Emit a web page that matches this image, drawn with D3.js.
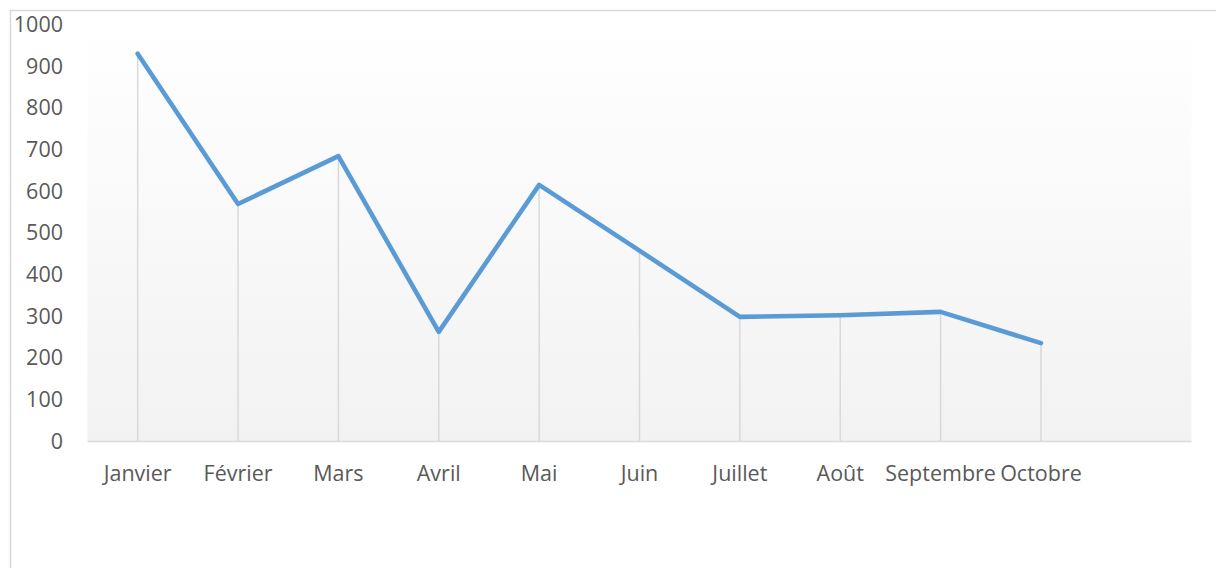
<!DOCTYPE html>
<html>
<head>
<meta charset="utf-8">
<script src="https://cdn.jsdelivr.net/npm/d3@7"></script>
<style>
  body { margin: 0; background: #fff; }
  text { font-family: "Open Sans", sans-serif; fill: #595959; }
</style>
</head>
<body>
<svg id="chart" width="1216" height="568"></svg>
<script>
// Données
const mois = ["Janvier", "Février", "Mars", "Avril", "Mai", "Juin", "Juillet", "Août", "Septembre", "Octobre", ""];
const valeurs = [930, 569, 684, 262, 615, 457, 298, 302, 310, 235];
const yTicks = [0, 100, 200, 300, 400, 500, 600, 700, 800, 900, 1000];

const svg = d3.select("#chart");

// Cadre du graphique (déborde à droite et en bas)
svg.append("rect")
    .attr("x", 10.5).attr("y", 10.5)
    .attr("width", 1220).attr("height", 620)
    .attr("fill", "none")
    .attr("stroke", "#d9d9d9")
    .attr("stroke-width", 1.5);

// Échelles
const x = d3.scaleBand().domain(mois).range([87.5, 1191.5]);
const y = d3.scaleLinear().domain([0, 1000]).range([441, 24.5]);

// Fond dégradé de la zone de tracé
const grad = svg.append("defs").append("linearGradient")
    .attr("id", "fond").attr("x1", 0).attr("y1", 0).attr("x2", 0).attr("y2", 1);
grad.append("stop").attr("offset", "0%").attr("stop-color", "#ffffff");
grad.append("stop").attr("offset", "100%").attr("stop-color", "#f2f2f2");

svg.append("rect")
    .attr("x", 87.5).attr("y", y(1000))
    .attr("width", 1191.5 - 87.5).attr("height", y(0) - y(1000))
    .attr("fill", "url(#fond)");

// Axe Y (étiquettes seulement)
svg.append("g")
    .selectAll("text")
    .data(yTicks)
    .join("text")
    .attr("x", 63)
    .attr("y", d => y(d))
    .attr("dy", "0.35em")
    .attr("text-anchor", "end")
    .style("font-size", "21.5px")
    .text(d => d);

// Lignes de projection
const pts = valeurs.map((v, i) => ({ mois: mois[i], v }));
const cx = d => x(d.mois) + x.bandwidth() / 2;

svg.append("g")
    .selectAll("line")
    .data(pts)
    .join("line")
    .attr("x1", cx).attr("x2", cx)
    .attr("y1", d => y(d.v)).attr("y2", y(0))
    .attr("stroke", "#d9d9d9")
    .attr("stroke-width", 1.5);

// Axe X
svg.append("line")
    .attr("x1", 87.5).attr("x2", 1191.5)
    .attr("y1", y(0) + 0.5).attr("y2", y(0) + 0.5)
    .attr("stroke", "#d9d9d9")
    .attr("stroke-width", 1.5);

svg.append("g")
    .selectAll("text")
    .data(mois.filter(m => m !== ""))
    .join("text")
    .attr("x", d => x(d) + x.bandwidth() / 2)
    .attr("y", 481)
    .attr("text-anchor", "middle")
    .style("font-size", "21.5px")
    .text(d => d);

// Courbe
const ligne = d3.line().x(cx).y(d => y(d.v));

svg.append("path")
    .datum(pts)
    .attr("d", ligne)
    .attr("fill", "none")
    .attr("stroke", "#5b9bd5")
    .attr("stroke-width", 4.6)
    .attr("stroke-linejoin", "round")
    .attr("stroke-linecap", "round");
</script>
</body>
</html>
